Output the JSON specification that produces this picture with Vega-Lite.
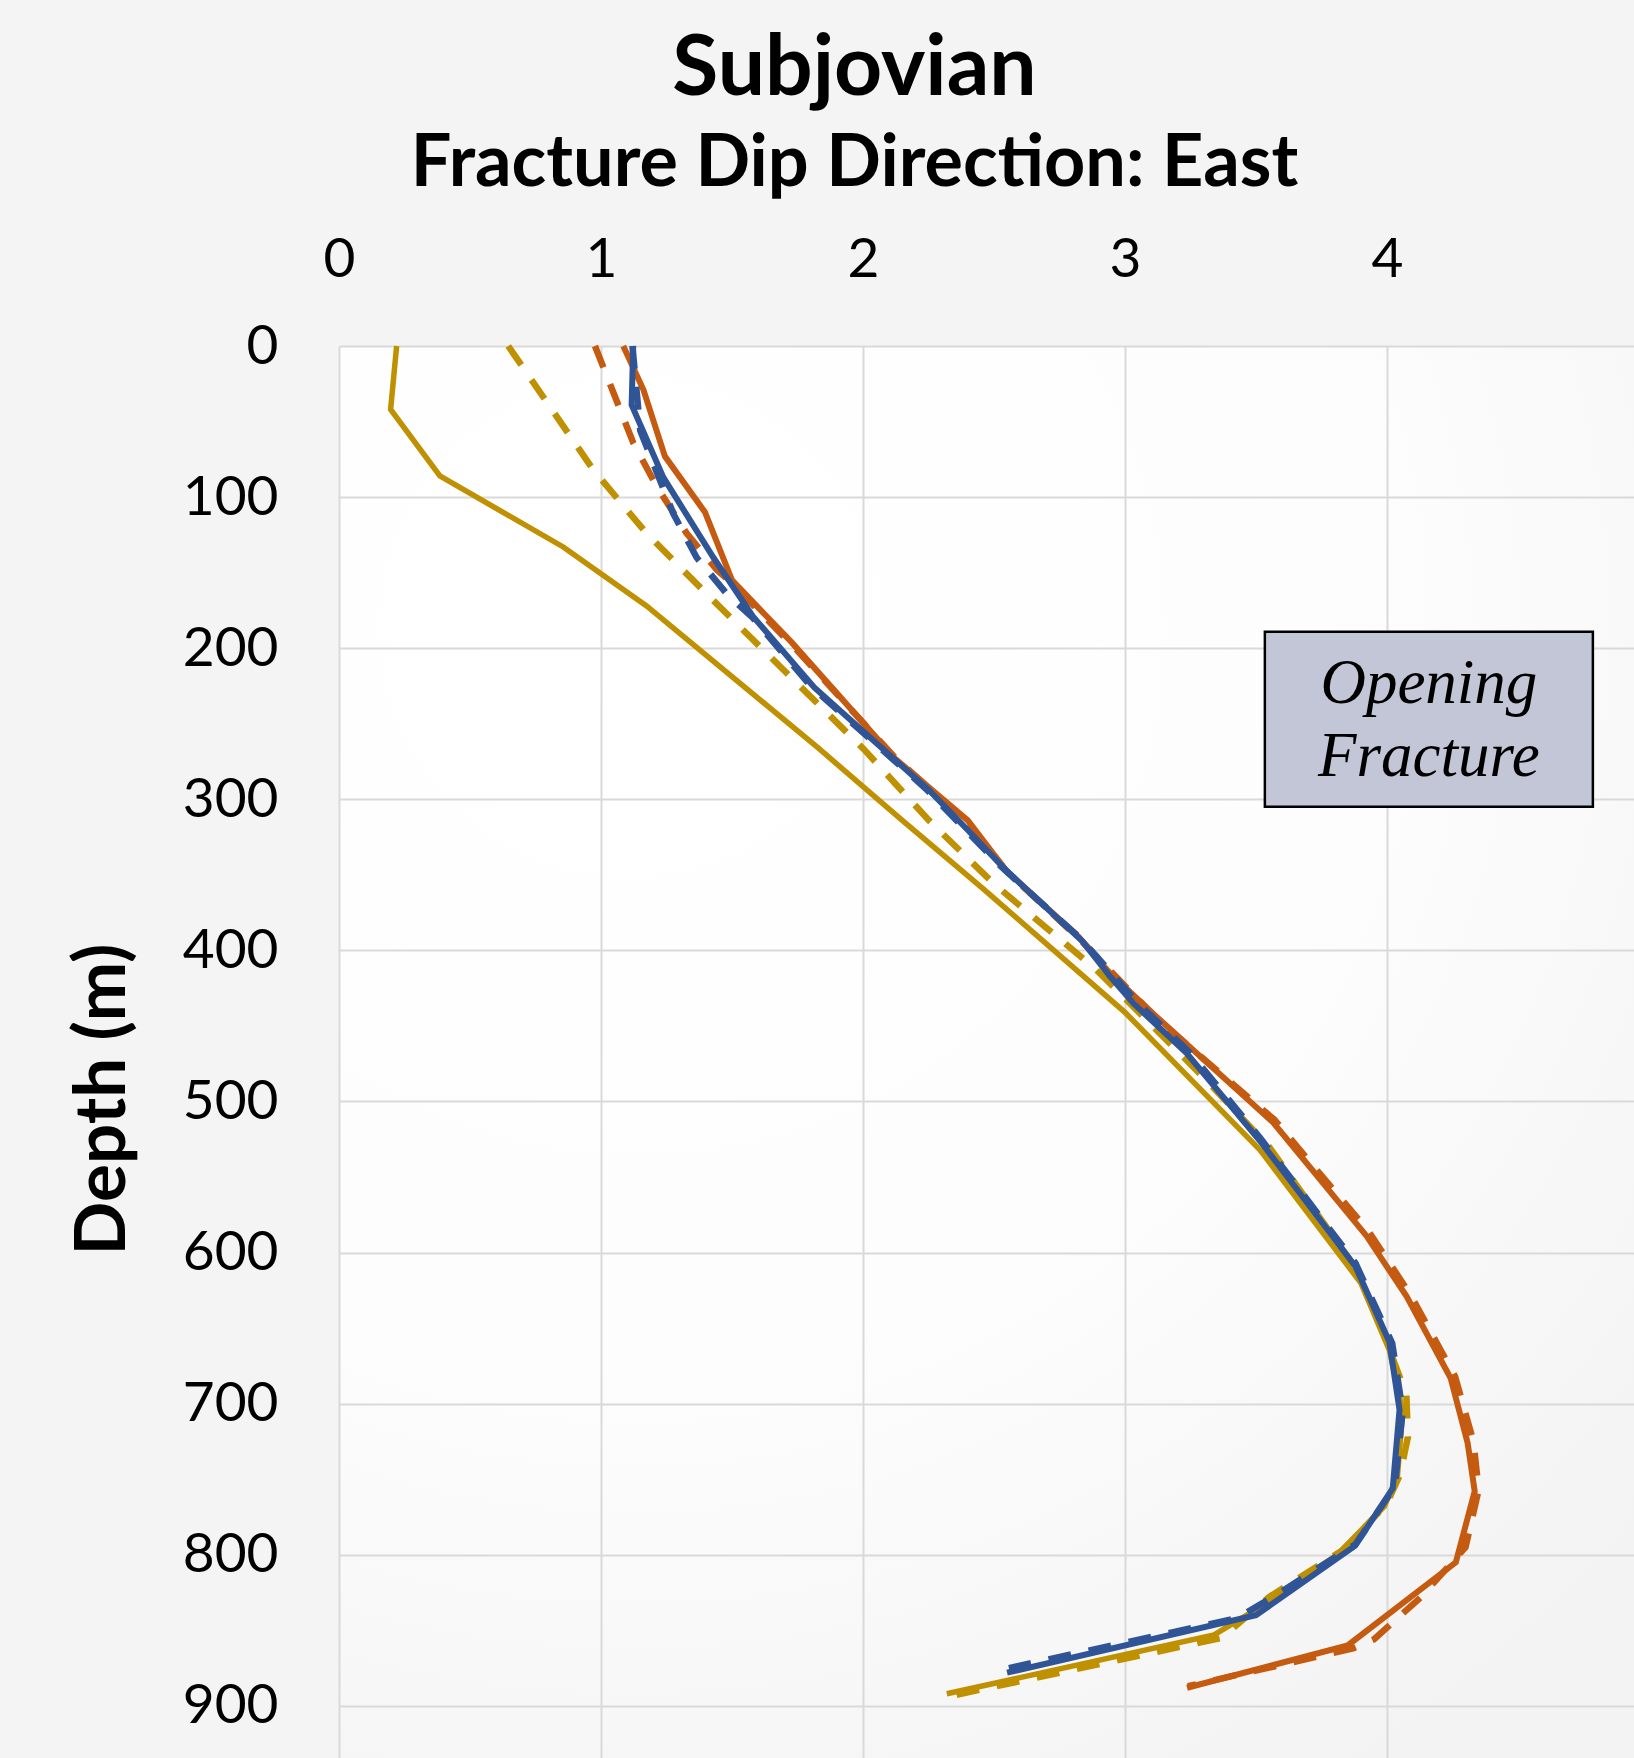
{
  "$schema": "https://vega.github.io/schema/vega-lite/v6.json",
  "autosize": "none",
  "padding": {"left": 339, "top": 346, "right": 0, "bottom": 0},
  "width": 1295,
  "height": 1412,
  "background": "#f4f4f4",
  "view": {
    "stroke": null,
    "fill": {
      "gradient": "radial",
      "x1": 0.25, "y1": 0.2, "r1": 0,
      "x2": 0.25, "y2": 0.2, "r2": 0.95,
      "stops": [
        {"offset": 0, "color": "#ffffff"},
        {"offset": 0.55, "color": "#fdfdfd"},
        {"offset": 1, "color": "#f3f3f3"}
      ]
    }
  },
  "title": {
    "text": "Subjovian",
    "subtitle": "Fracture Dip Direction: East",
    "anchor": "middle",
    "frame": "group",
    "dx": -132,
    "offset": 31,
    "font": "Lato",
    "fontSize": 84,
    "fontWeight": "bold",
    "color": "#000000",
    "subtitleFont": "Lato",
    "subtitleFontSize": 72,
    "subtitleFontWeight": "bold",
    "subtitleColor": "#000000",
    "subtitlePadding": 16
  },
  "data": {
    "values": [
      {"s": "gs", "v": 0.22, "d": 0},
      {"s": "gs", "v": 0.197, "d": 42},
      {"s": "gs", "v": 0.385, "d": 86},
      {"s": "gs", "v": 0.856, "d": 133},
      {"s": "gs", "v": 1.174, "d": 172},
      {"s": "gs", "v": 1.829, "d": 266},
      {"s": "gs", "v": 2.15, "d": 314},
      {"s": "gs", "v": 2.457, "d": 359},
      {"s": "gs", "v": 3.0, "d": 441},
      {"s": "gs", "v": 3.515, "d": 532},
      {"s": "gs", "v": 3.9, "d": 620},
      {"s": "gs", "v": 4.01, "d": 665},
      {"s": "gs", "v": 4.06, "d": 705},
      {"s": "gs", "v": 4.04, "d": 748},
      {"s": "gs", "v": 3.99, "d": 768},
      {"s": "gs", "v": 3.81, "d": 800},
      {"s": "gs", "v": 3.465, "d": 840},
      {"s": "gs", "v": 3.34, "d": 853},
      {"s": "gs", "v": 2.32, "d": 892},

      {"s": "gd", "v": 0.646, "d": 0},
      {"s": "gd", "v": 0.971, "d": 82},
      {"s": "gd", "v": 1.174, "d": 124},
      {"s": "gd", "v": 1.403, "d": 164},
      {"s": "gd", "v": 1.747, "d": 223},
      {"s": "gd", "v": 2.004, "d": 267},
      {"s": "gd", "v": 2.252, "d": 314},
      {"s": "gd", "v": 2.5, "d": 356},
      {"s": "gd", "v": 2.892, "d": 413},
      {"s": "gd", "v": 3.3, "d": 484},
      {"s": "gd", "v": 3.55, "d": 530},
      {"s": "gd", "v": 3.88, "d": 610},
      {"s": "gd", "v": 3.99, "d": 655},
      {"s": "gd", "v": 4.074, "d": 694},
      {"s": "gd", "v": 4.08, "d": 722},
      {"s": "gd", "v": 4.05, "d": 747},
      {"s": "gd", "v": 4.0, "d": 766},
      {"s": "gd", "v": 3.84, "d": 796},
      {"s": "gd", "v": 3.55, "d": 828},
      {"s": "gd", "v": 3.37, "d": 855},
      {"s": "gd", "v": 2.32, "d": 894},

      {"s": "os", "v": 1.085, "d": 0},
      {"s": "os", "v": 1.162, "d": 29},
      {"s": "os", "v": 1.244, "d": 73},
      {"s": "os", "v": 1.397, "d": 110},
      {"s": "os", "v": 1.5, "d": 155},
      {"s": "os", "v": 1.727, "d": 196},
      {"s": "os", "v": 2.122, "d": 273},
      {"s": "os", "v": 2.4, "d": 314},
      {"s": "os", "v": 2.546, "d": 347},
      {"s": "os", "v": 2.823, "d": 391},
      {"s": "os", "v": 2.942, "d": 415},
      {"s": "os", "v": 3.121, "d": 444},
      {"s": "os", "v": 3.566, "d": 514},
      {"s": "os", "v": 3.922, "d": 589},
      {"s": "os", "v": 4.075, "d": 629},
      {"s": "os", "v": 4.243, "d": 683},
      {"s": "os", "v": 4.308, "d": 726},
      {"s": "os", "v": 4.335, "d": 758},
      {"s": "os", "v": 4.263, "d": 805},
      {"s": "os", "v": 3.85, "d": 860},
      {"s": "os", "v": 3.237, "d": 888},

      {"s": "od", "v": 0.977, "d": 0},
      {"s": "od", "v": 1.123, "d": 64},
      {"s": "od", "v": 1.213, "d": 93},
      {"s": "od", "v": 1.327, "d": 124},
      {"s": "od", "v": 1.442, "d": 148},
      {"s": "od", "v": 1.5, "d": 157},
      {"s": "od", "v": 1.73, "d": 198},
      {"s": "od", "v": 2.12, "d": 272},
      {"s": "od", "v": 2.4, "d": 316},
      {"s": "od", "v": 2.55, "d": 348},
      {"s": "od", "v": 2.83, "d": 393},
      {"s": "od", "v": 3.12, "d": 445},
      {"s": "od", "v": 3.57, "d": 512},
      {"s": "od", "v": 3.93, "d": 586},
      {"s": "od", "v": 4.09, "d": 628},
      {"s": "od", "v": 4.26, "d": 682},
      {"s": "od", "v": 4.33, "d": 725},
      {"s": "od", "v": 4.35, "d": 757},
      {"s": "od", "v": 4.3, "d": 795},
      {"s": "od", "v": 4.13, "d": 828},
      {"s": "od", "v": 3.95, "d": 856},
      {"s": "od", "v": 3.87, "d": 862},
      {"s": "od", "v": 3.24, "d": 887},

      {"s": "bd", "v": 1.12, "d": 0},
      {"s": "bd", "v": 1.15, "d": 56},
      {"s": "bd", "v": 1.276, "d": 111},
      {"s": "bd", "v": 1.365, "d": 140},
      {"s": "bd", "v": 1.48, "d": 164},
      {"s": "bd", "v": 1.58, "d": 180},
      {"s": "bd", "v": 1.8, "d": 225},
      {"s": "bd", "v": 2.24, "d": 293},
      {"s": "bd", "v": 2.53, "d": 345},
      {"s": "bd", "v": 2.83, "d": 392},
      {"s": "bd", "v": 3.05, "d": 435},
      {"s": "bd", "v": 3.25, "d": 468},
      {"s": "bd", "v": 3.52, "d": 525},
      {"s": "bd", "v": 3.88, "d": 607},
      {"s": "bd", "v": 4.02, "d": 660},
      {"s": "bd", "v": 4.06, "d": 705},
      {"s": "bd", "v": 4.03, "d": 755},
      {"s": "bd", "v": 3.88, "d": 793},
      {"s": "bd", "v": 3.565, "d": 828},
      {"s": "bd", "v": 3.427, "d": 842},
      {"s": "bd", "v": 2.557, "d": 875},

      {"s": "bs", "v": 1.123, "d": 0},
      {"s": "bs", "v": 1.117, "d": 39},
      {"s": "bs", "v": 1.238, "d": 87},
      {"s": "bs", "v": 1.429, "d": 140},
      {"s": "bs", "v": 1.58, "d": 179},
      {"s": "bs", "v": 1.814, "d": 226},
      {"s": "bs", "v": 2.252, "d": 294},
      {"s": "bs", "v": 2.398, "d": 320},
      {"s": "bs", "v": 2.546, "d": 347},
      {"s": "bs", "v": 2.838, "d": 394},
      {"s": "bs", "v": 2.942, "d": 417},
      {"s": "bs", "v": 3.032, "d": 435},
      {"s": "bs", "v": 3.235, "d": 468},
      {"s": "bs", "v": 3.515, "d": 526},
      {"s": "bs", "v": 3.879, "d": 609},
      {"s": "bs", "v": 4.009, "d": 659},
      {"s": "bs", "v": 4.048, "d": 704},
      {"s": "bs", "v": 4.022, "d": 756},
      {"s": "bs", "v": 3.879, "d": 794},
      {"s": "bs", "v": 3.5, "d": 840},
      {"s": "bs", "v": 2.55, "d": 878}
    ]
  },
  "encoding": {
    "x": {
      "field": "v",
      "type": "quantitative",
      "scale": {"domain": [0, 4.943], "nice": false, "zero": false},
      "axis": {
        "orient": "top",
        "values": [0, 1, 2, 3, 4],
        "title": null,
        "grid": true,
        "gridColor": "#d9d9d9",
        "gridWidth": 2,
        "ticks": false,
        "domain": false,
        "labelFont": "Lato",
        "labelFontSize": 55,
        "labelColor": "#000000",
        "labelPadding": 58,
        "labelFlush": false
      }
    },
    "y": {
      "field": "d",
      "type": "quantitative",
      "scale": {"domain": [0, 934.5], "reverse": true, "nice": false, "zero": false},
      "axis": {
        "values": [0, 100, 200, 300, 400, 500, 600, 700, 800, 900],
        "title": "Depth (m)",
        "titleFont": "Lato",
        "titleFontSize": 71,
        "titleFontWeight": "bold",
        "titleColor": "#000000",
        "titleAngle": 270,
        "titleAlign": "center",
        "titleBaseline": "middle",
        "titleX": -236,
        "titleY": 753,
        "grid": true,
        "gridColor": "#d9d9d9",
        "gridWidth": 2,
        "ticks": false,
        "domain": false,
        "labelFont": "Lato",
        "labelFontSize": 55,
        "labelColor": "#000000",
        "labelPadding": 61,
        "labelFlush": false
      }
    }
  },
  "layer": [
    {
      "transform": [{"filter": "datum.s === 'gs'"}],
      "mark": {"type": "line", "color": "#BF9000", "strokeWidth": 5.5, "strokeJoin": "miter"},
      "encoding": {"order": {"field": "d", "type": "quantitative"}}
    },
    {
      "transform": [{"filter": "datum.s === 'gd'"}],
      "mark": {"type": "line", "color": "#BF9000", "strokeWidth": 6.5, "strokeDash": [23, 18]},
      "encoding": {"order": {"field": "d", "type": "quantitative"}}
    },
    {
      "transform": [{"filter": "datum.s === 'os'"}],
      "mark": {"type": "line", "color": "#C55A11", "strokeWidth": 6, "strokeJoin": "miter"},
      "encoding": {"order": {"field": "d", "type": "quantitative"}}
    },
    {
      "transform": [{"filter": "datum.s === 'od'"}],
      "mark": {"type": "line", "color": "#C55A11", "strokeWidth": 6.5, "strokeDash": [23, 18]},
      "encoding": {"order": {"field": "d", "type": "quantitative"}}
    },
    {
      "transform": [{"filter": "datum.s === 'bd'"}],
      "mark": {"type": "line", "color": "#2F5597", "strokeWidth": 6.5, "strokeDash": [23, 18]},
      "encoding": {"order": {"field": "d", "type": "quantitative"}}
    },
    {
      "transform": [{"filter": "datum.s === 'bs'"}],
      "mark": {"type": "line", "color": "#2F5597", "strokeWidth": 6, "strokeJoin": "miter"},
      "encoding": {"order": {"field": "d", "type": "quantitative"}}
    },
    {
      "data": {"values": [{"label": "Opening Fracture", "x0": 3.534, "x1": 4.786, "y0": 189.1, "y1": 304.9}]},
      "mark": {"type": "rect", "fill": "#c3c6d6", "stroke": "#000000", "strokeWidth": 2.5},
      "encoding": {
        "x": {"field": "x0", "type": "quantitative"},
        "x2": {"field": "x1"},
        "y": {"field": "y0", "type": "quantitative"},
        "y2": {"field": "y1"}
      }
    },
    {
      "data": {"values": [{"line": "Opening", "xc": 4.16, "yb": 236.3}, {"line": "Fracture", "xc": 4.16, "yb": 284.6}]},
      "mark": {
        "type": "text",
        "font": "Liberation Serif",
        "fontStyle": "italic",
        "fontSize": 63,
        "color": "#000000",
        "align": "center",
        "baseline": "alphabetic"
      },
      "encoding": {
        "x": {"field": "xc", "type": "quantitative"},
        "y": {"field": "yb", "type": "quantitative"},
        "text": {"field": "line", "type": "nominal"}
      }
    }
  ]
}
